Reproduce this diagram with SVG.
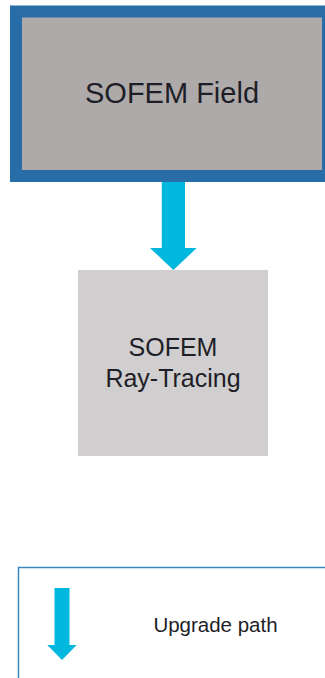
<svg xmlns="http://www.w3.org/2000/svg" width="325" height="678" viewBox="0 0 325 678">
<style>
text{font-family:"Liberation Sans",Arial,sans-serif;fill:#1e1e28;text-anchor:middle}
.arrow{fill:#00b7de}
</style>
<rect width="325" height="678" fill="#ffffff"/>
<g id="node-field">
<rect x="16" y="11.5" width="312" height="164.5" fill="#aeaaaa" stroke="#286ca8" stroke-width="12"/>
<text x="172" y="103" font-size="29">SOFEM Field</text>
</g>
<g id="node-raytracing">
<rect x="78" y="270" width="190" height="186" fill="#d0cece"/>
<text x="173" y="356" font-size="25">SOFEM</text>
<text x="173" y="387" font-size="25">Ray-Tracing</text>
</g>
<g id="connectors">
<polygon class="arrow" points="161.8,182 185,182 185,248 196.7,248 173.4,270 150,248 161.8,248"/>
</g>
<g id="legend">
<rect x="18.5" y="567.5" width="320" height="120" fill="none" stroke="#3f86bf" stroke-width="1.5"/>
<polygon class="arrow" points="54.5,588 69.5,588 69.5,645 76.7,645 62,660 47.3,645 54.5,645"/>
<text x="215.5" y="632" font-size="20.5">Upgrade path</text>
</g>
</svg>
